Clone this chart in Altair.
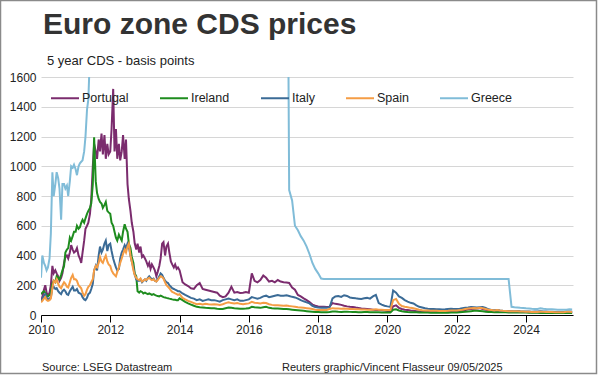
import altair as alt
import pandas as pd

series_names = ["Portugal", "Ireland", "Italy", "Spain", "Greece"]
series_colors = ["#7b2c6e", "#1e8c1e", "#3b6b96", "#f59d45", "#80bcd8"]

# semimonthly 2010-2013, monthly 2014 - May 2025
dates_early = [f"{y}-{m:02d}-{d:02d}" for y in range(2010, 2014) for m in range(1, 13) for d in (1, 15)]
dates_late = [f"{y}-{m:02d}-01" for y in range(2014, 2026) for m in range(1, 13) if (y < 2025 or m <= 5)]
dates = dates_early + dates_late

portugal_early = [
    95, 120, 170, 200, 150, 130, 150, 200, 330, 280, 300, 280, 260, 230, 250, 280, 350, 390, 400, 380, 420, 470, 440, 420,
    430, 450, 400, 380, 350, 420, 500, 580, 600, 620, 680, 780, 1000, 1150, 1100, 1050, 1180, 1100, 1220, 1080, 1210, 1050, 1150, 1080,
    1100, 1250, 1520, 1100, 1250, 1050, 1150, 1040, 1100, 1210, 1050, 1180, 880, 780, 700, 620, 560, 480, 440, 480, 420, 460, 390, 400,
    380, 360, 330, 350, 310, 340, 320, 300, 260, 290, 330, 380, 480, 490, 400, 460, 480, 420, 360, 340, 320, 340, 310, 320,
]
portugal_late = [
    300, 220, 205, 195, 180, 175, 200, 215, 175, 170, 165, 160,
    155, 150, 130, 120, 125, 150, 190, 150, 155, 148, 150, 155,
    150, 280, 230, 220, 235, 265, 250, 225, 230, 220, 235, 225,
    220, 218, 215, 185, 170, 135, 125, 112, 100, 87, 70, 62,
    58, 56, 55, 54, 56, 80, 75, 72, 68, 62, 58, 55,
    54, 50, 47, 44, 42, 40, 38, 36, 34, 33, 32, 30,
    27, 26, 58, 65, 48, 40, 36, 33, 30, 28, 26, 24,
    22, 22, 22, 21, 21, 21, 20, 20, 20, 21, 22, 22,
    24, 26, 30, 34, 38, 40, 42, 44, 46, 40, 36, 32,
    30, 28, 30, 28, 27, 26, 25, 25, 24, 24, 22, 21,
    20, 20, 19, 19, 18, 18, 18, 17, 17, 17, 16, 16,
    16, 16, 18, 18, 17,
]

ireland_early = [
    140, 150, 160, 150, 130, 125, 135, 150, 210, 230, 220, 260, 250, 240, 270, 300, 330, 420, 440, 450, 520, 500, 530, 560,
    560, 600, 580, 590, 620, 640, 620, 650, 680, 700, 720, 750, 880, 1195, 900, 820, 780, 760, 750, 720, 740, 760, 700, 690,
    680, 620, 600, 560, 520, 500, 540, 520, 500, 560, 610, 580, 560, 480, 450, 390, 350, 280, 260, 160, 150, 160, 155, 145,
    150, 145, 140, 145, 140, 135, 140, 135, 130, 128, 125, 130, 125, 120, 118, 115, 112, 110, 108, 105, 103, 102, 100, 100,
]
ireland_late = [
    112, 100, 88, 78, 70, 62, 55, 52, 50, 48, 47, 46,
    45, 42, 40, 40, 45, 50, 48, 45, 44, 42, 42, 43,
    45, 55, 52, 50, 48, 52, 55, 48, 45, 44, 43, 42,
    40, 40, 38, 36, 34, 32, 30, 28, 26, 24, 22, 20,
    20, 19, 18, 18, 20, 24, 24, 22, 21, 22, 22, 21,
    20, 20, 19, 19, 20, 20, 19, 19, 18, 18, 17, 17,
    17, 17, 35, 38, 30, 25, 22, 20, 19, 18, 18, 17,
    16, 16, 16, 15, 15, 15, 15, 15, 15, 15, 16, 16,
    17, 18, 20, 22, 24, 26, 28, 28, 27, 25, 22, 20,
    20, 19, 20, 19, 18, 18, 17, 17, 17, 17, 16, 16,
    16, 15, 15, 15, 15, 14, 14, 14, 14, 14, 13, 13,
    13, 13, 14, 14, 13,
]

italy_early = [
    95, 110, 130, 140, 115, 105, 110, 120, 180, 190, 175, 180, 160, 150, 140, 160, 170, 160, 140, 135, 160, 175, 190, 165,
    165, 175, 150, 145, 140, 120, 105, 100, 115, 140, 150, 175, 210, 300, 330, 300, 400, 460, 420, 440, 480, 500, 430, 470,
    480, 430, 380, 350, 320, 300, 310, 380, 420, 440, 470, 450, 480, 460, 400, 360, 320, 270, 240, 230, 230, 240, 220, 230,
    240, 230, 250, 260, 250, 240, 245, 230, 225, 240, 260, 280, 270, 250, 230, 220, 215, 200, 190, 180, 175, 170, 165, 160,
]
italy_late = [
    160, 145, 135, 125, 115, 110, 100, 105, 95, 100, 105, 100,
    100, 95, 90, 100, 105, 110, 105, 100, 105, 95, 95, 100,
    105, 120, 115, 110, 115, 125, 130, 120, 125, 130, 135, 130,
    130, 132, 128, 122, 118, 110, 100, 92, 85, 78, 62, 54,
    50, 48, 50, 48, 52, 112, 125, 128, 122, 133, 128, 118,
    115, 112, 110, 108, 112, 115, 110, 125, 135, 80, 70, 62,
    58, 55, 165, 150, 125, 115, 100, 90, 82, 78, 65, 55,
    50, 45, 42, 40, 40, 38, 38, 37, 38, 40, 42, 40,
    40, 42, 45, 48, 50, 54, 52, 50, 52, 54, 48, 38,
    34, 32, 34, 30, 28, 27, 26, 25, 26, 27, 25, 24,
    24, 23, 22, 23, 24, 25, 24, 23, 22, 22, 21, 21,
    20, 20, 23, 24, 22,
]

spain_early = [
    85, 95, 110, 120, 100, 95, 100, 110, 180, 230, 220, 240, 210, 190, 180, 200, 220, 210, 190, 185, 220, 250, 270, 240,
    240, 230, 200, 190, 180, 150, 130, 140, 170, 190, 200, 220, 240, 300, 330, 320, 350, 390, 360, 350, 380, 400, 360, 340,
    330, 300, 280, 270, 260, 290, 320, 350, 380, 410, 440, 420, 460, 480, 400, 360, 300, 270, 250, 240, 235, 245, 225, 230,
    240, 235, 245, 250, 240, 235, 240, 230, 225, 235, 250, 260, 255, 245, 220, 200, 190, 180, 165, 155, 150, 145, 140, 135,
]
spain_late = [
    140, 115, 105, 95, 88, 80, 72, 75, 70, 75, 72, 70,
    72, 70, 68, 72, 80, 85, 80, 78, 80, 75, 72, 75,
    78, 88, 82, 80, 78, 82, 80, 72, 68, 65, 66, 64,
    62, 63, 60, 58, 55, 52, 50, 48, 46, 44, 40, 36,
    34, 33, 34, 34, 40, 46, 44, 44, 42, 44, 42, 40,
    40, 38, 38, 37, 37, 36, 35, 36, 38, 36, 35, 34,
    33, 33, 100, 108, 75, 60, 55, 52, 48, 45, 40, 35,
    32, 30, 30, 29, 28, 28, 27, 27, 27, 28, 30, 30,
    31, 33, 36, 40, 44, 46, 47, 46, 48, 45, 40, 35,
    33, 31, 33, 30, 28, 27, 26, 25, 26, 26, 24, 23,
    22, 22, 21, 21, 21, 22, 21, 20, 20, 20, 19, 19,
    19, 19, 22, 22, 20,
]

# Greece: values above 1600 run off the top of the chart
greece_early = [
    250, 400, 350, 330, 300, 320, 380, 550, 960, 800, 880, 960, 920, 850, 640, 880, 880, 850, 870, 800, 900, 1000, 990, 1010,
    980, 940, 1000, 1020, 1030, 1040, 1100, 1200, 1380, 1450, 1750, 2100, 2300, 2600, 2200, 2500, 3200, 5000, 5500, 5800, 5600, 6000, 6500, 7000,
    7500, 8100, 9300, 10200, 12400, 14100, 9200, 8300, 8600, 9100, 9700, 10300, 9800, 9100, 8400, 8050, 7400, 7050, 6600, 6100, 5450, 5020, 4780, 4530,
    4310, 4180, 4020, 3880, 3810, 3690, 3620, 3480, 3390, 3320, 3180, 3090, 3010, 2960, 2870, 2840, 2790, 2760, 2710, 2640, 2610, 2540, 2520, 2460,
]
greece_late = [
    2400, 2600, 2300, 2500, 2700, 2450, 2550, 2650, 2800, 3100, 3300, 3500,
    3800, 4200, 5000, 5600, 6100, 7200, 8500, 7900, 7400, 6800, 6200, 5900,
    5600, 6000, 5800, 5400, 5100, 4900, 4700, 4600, 4500, 4300, 4200, 4100,
    4000, 3900, 840, 770, 600, 570, 530, 500, 460, 410, 350, 310,
    280, 245, 242, 242, 242, 242, 242, 242, 242, 242, 242, 242,
    242, 242, 242, 242, 242, 242, 242, 242, 242, 242, 242, 242,
    242, 242, 242, 242, 242, 242, 242, 242, 242, 242, 242, 242,
    242, 242, 242, 242, 242, 242, 242, 242, 242, 242, 242, 242,
    242, 242, 242, 242, 242, 242, 242, 242, 242, 242, 242, 242,
    242, 242, 242, 242, 242, 242, 242, 55, 52, 50, 48, 47,
    45, 44, 42, 41, 40, 45, 42, 40, 39, 38, 37, 36,
    35, 35, 36, 38, 37,
]

y_ticks = [0, 200, 400, 600, 800, 1000, 1200, 1400, 1600]
x_tick_years = [2010, 2012, 2014, 2016, 2018, 2020, 2022, 2024]

title_text = "Euro zone CDS prices"
subtitle_text = "5 year CDS - basis points"
source_text = "Source: LSEG Datastream"
credit_text = "Reuters graphic/Vincent Flasseur 09/05/2025"

series_values = {
    "Portugal": portugal_early + portugal_late,
    "Ireland": ireland_early + ireland_late,
    "Italy": italy_early + italy_late,
    "Spain": spain_early + spain_late,
    "Greece": greece_early + greece_late,
}
for k, v in series_values.items():
    assert len(v) == len(dates), (k, len(v), len(dates))

rows = []
for name in series_names:
    for d, v in zip(dates, series_values[name]):
        rows.append({"date": d, "series": name, "value": v})
df = pd.DataFrame(rows)
df["date"] = pd.to_datetime(df["date"])

FONT = "Liberation Sans"
W, H = 532, 238

x_enc = alt.X(
    "date:T",
    scale=alt.Scale(domain=[alt.DateTime(year=2010, month=1, date=1),
                            alt.DateTime(year=2025, month=5, date=10)]),
    axis=alt.Axis(
        values=[alt.DateTime(year=y, month=1, date=1) for y in x_tick_years],
        format="%Y", title=None, grid=False, domainColor="#000000", domainWidth=1,
        tickColor="#000000", tickSize=7, labelPadding=2, labelFontSize=12,
        labelColor="#222222", labelFont=FONT, labelFlush=False,
    ),
)
y_enc = alt.Y(
    "value:Q",
    scale=alt.Scale(domain=[0, 1600], nice=False),
    axis=alt.Axis(
        values=y_ticks, format="d", title=None, domain=False, ticks=False, gridColor="#d6d6d6",
        labelPadding=5, labelFontSize=12, labelColor="#222222", labelFont=FONT, labelFlush=False,
    ),
)
color_enc = alt.Color(
    "series:N",
    title=None,
    scale=alt.Scale(domain=series_names, range=series_colors),
    legend=alt.Legend(
        orient="none", legendX=9, legendY=6, direction="horizontal",
        symbolType="stroke", symbolSize=784, symbolStrokeWidth=2,
        labelFontSize=12.5, labelFont=FONT, labelColor="#222222",
        columnPadding=27, labelOffset=2,
    ),
)

base = alt.Chart(df).mark_line(strokeWidth=2, clip=True).encode(x=x_enc, y=y_enc, color=color_enc)
lines = [base.transform_filter(alt.datum.series == name) for name in series_names]

one = pd.DataFrame({"k": [0]})
title = alt.Chart(one).mark_text(align="left", baseline="alphabetic", fontSize=30, fontWeight="bold",
                                 font=FONT, color="#333333").encode(
    x=alt.value(2), y=alt.value(-43.5), text=alt.value(title_text))
subtitle = alt.Chart(one).mark_text(align="left", baseline="alphabetic", fontSize=13,
                                    font=FONT, color="#222222").encode(
    x=alt.value(6), y=alt.value(-12), text=alt.value(subtitle_text))
source = alt.Chart(one).mark_text(align="left", baseline="alphabetic", fontSize=11,
                                  font=FONT, color="#222222").encode(
    x=alt.value(1), y=alt.value(294), text=alt.value(source_text))
credit = alt.Chart(one).mark_text(align="left", baseline="alphabetic", fontSize=11,
                                  font=FONT, color="#222222").encode(
    x=alt.value(241), y=alt.value(294), text=alt.value(credit_text))
border = alt.Chart(one).mark_rect(fillOpacity=0, stroke="#8a8a8a", strokeWidth=1.5).encode(
    x=alt.value(-40.5), x2=alt.value(555.5), y=alt.value(-76.5), y2=alt.value(296.5))

chart = alt.layer(*lines, title, subtitle, source, credit, border).properties(
    width=W, height=H,
    padding={"left": 41, "top": 77, "right": 27, "bottom": 61},
    autosize=alt.AutoSizeParams(type="none"),
    background="white",
).configure_view(strokeWidth=0)

chart.save("out.html", embed_options={"renderer": "svg", "actions": False})
